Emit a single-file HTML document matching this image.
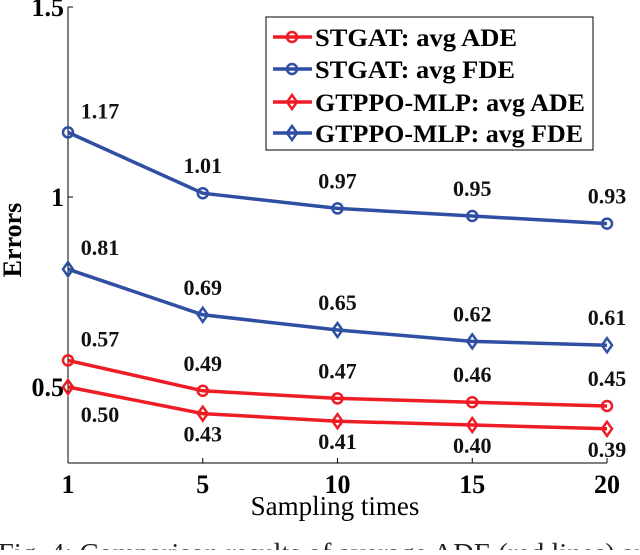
<!DOCTYPE html>
<html><head><meta charset="utf-8"><style>
html,body{margin:0;padding:0;background:#fff;}
body{width:640px;height:550px;overflow:hidden;}
</style></head><body>
<svg id="chart" width="640" height="550" xmlns="http://www.w3.org/2000/svg" font-family="Liberation Serif, serif"></svg>
<script>
const categories = ["1","5","10","15","20"];
const stgatADE = [0.57,0.49,0.47,0.46,0.45];
const stgatFDE = [1.17,1.01,0.97,0.95,0.93];
const gtppoADE = [0.50,0.43,0.41,0.40,0.39];
const gtppoFDE = [0.81,0.69,0.65,0.62,0.61];
const yTicks = [0.5,1,1.5];
const yTickLabels = ["0.5","1","1.5"];

const NS="http://www.w3.org/2000/svg";
const svg=document.getElementById('chart');
const RED="#ee1d25", BLUE="#2f4fa3";
const x0=68, x1=607, yBase=197;
function xs(i){return x0+(x1-x0)*i/(categories.length-1);}
function ys(v){return yBase+(1-v)*380;}
function el(tag,attrs,parent){const e=document.createElementNS(NS,tag);for(const k in attrs)e.setAttribute(k,attrs[k]);(parent||svg).appendChild(e);return e;}
function txt(s,x,y,size,anchor,weight,parent){const t=el('text',{x:x,y:y,'font-size':size,'text-anchor':anchor,'font-weight':weight,'font-family':'Liberation Serif, serif'},parent);t.textContent=s;return t;}

const ax=el('line',{x1:x0,y1:ys(0.3),x2:x0,y2:ys(1.5),stroke:'#000','stroke-width':1});


const bx=el('line',{x1:x0,y1:ys(0.3),x2:x1,y2:ys(0.3),stroke:'#000','stroke-width':1});



yTicks.forEach((v,i)=>{
  el('line',{x1:x0,y1:ys(v),x2:x0+5,y2:ys(v),stroke:'#000'});
  const t=txt(yTickLabels[i],x0-4,ys(v)+9,26,'end','bold');
  
  
});
categories.forEach((c,i)=>{
  el('line',{x1:xs(i),y1:ys(0.3),x2:xs(i),y2:ys(0.3)-5,stroke:'#000'});
  const t=txt(c,xs(i),493,26,'middle','bold');
  
  
});
const xt=txt('Sampling times',335,515,27,'middle','normal');


const yt=txt('Errors',0,0,26,'middle','bold');
yt.setAttribute('transform','translate(21,240) rotate(-90)');


const cap=txt('Fig. 4: Comparison results of average ADE (red lines) and',-2,562,27,'start','normal');
cap.setAttribute('fill','#222');
cap.setAttribute('textLength','665');
cap.setAttribute('lengthAdjust','spacingAndGlyphs');



function marker(kind,x,y,color,g){
  if(kind==='o') el('circle',{cx:x,cy:y,r:5,fill:'none',stroke:color,'stroke-width':2.5},g);
  else el('polygon',{points:`${x},${y-7} ${x+5},${y} ${x},${y+7} ${x-5},${y}`,fill:'none',stroke:color,'stroke-width':2.5},g);
}
function series(name,vals,color,kind,labelPos){
  const g=el('g',{});
  
  
  el('polyline',{points:vals.map((v,i)=>xs(i)+','+ys(v)).join(' '),fill:'none',stroke:color,'stroke-width':3.5},g);
  vals.forEach((v,i)=>{
    marker(kind,xs(i),ys(v),color,g);
    const lx = i===0 ? xs(i)+32 : xs(i);
    const ly = labelPos==='above' ? ys(v)-(i===0?14:20) : ys(v)+(i===0?35:28);
    const t=txt(v.toFixed(2),lx,ly,22,'middle','bold',g);
    t.setAttribute('fill','#111');
    
    
  });
}
series('stgat-fde-line',stgatFDE,BLUE,'o','above');
series('gtppo-fde-line',gtppoFDE,BLUE,'d','above');
series('stgat-ade-line',stgatADE,RED,'o','above');
series('gtppo-ade-line',gtppoADE,RED,'d','below');

const lg=el('g',{});


el('rect',{x:266,y:17,width:327,height:133,fill:'#fff',stroke:'#000','stroke-width':1},lg);
const entries=[['STGAT: avg ADE',RED,'o',202],['STGAT: avg FDE',BLUE,'o',200],['GTPPO-MLP: avg ADE',RED,'d',270],['GTPPO-MLP: avg FDE',BLUE,'d',268]];
const ly=[37,69,102,133];
entries.forEach((e,i)=>{
  const g=el('g',{},lg);
  
  
  el('line',{x1:273,y1:ly[i],x2:312,y2:ly[i],stroke:e[1],'stroke-width':3.5},g);
  marker(e[2],292,ly[i],e[1],g);
  const t=txt(e[0],315,ly[i]+9,25,'start','bold',g);
  t.setAttribute('textLength',e[3]);
  t.setAttribute('lengthAdjust','spacingAndGlyphs');
});
</script>
</body></html>
